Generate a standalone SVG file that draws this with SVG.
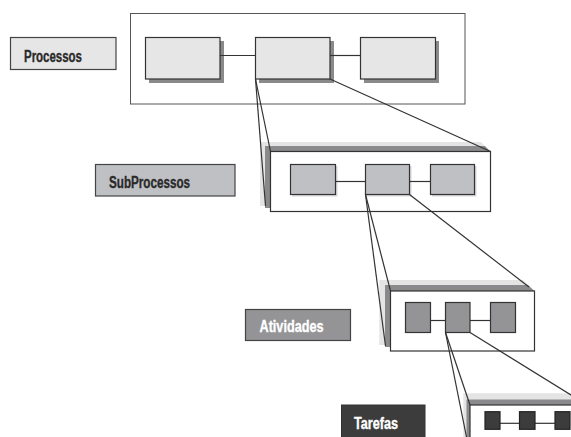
<svg xmlns="http://www.w3.org/2000/svg" width="571" height="437" viewBox="0 0 571 437">
<style>
.lbl{font-family:"Liberation Sans",Arial,sans-serif;font-weight:bold;font-size:16px;stroke-width:0.35px;}
.frame{fill:#ffffff;stroke:#555555;stroke-width:1;}
.front{fill:#ffffff;stroke:#333333;stroke-width:1.2;}
.band1{fill:#e4e4e4;}
.band2{fill:#8a8a8c;}
.shadow{fill:#8a8a8a;}
.b1{fill:#e6e6e6;stroke:#333333;stroke-width:1.2;}
.b2{fill:#bfc0c4;stroke:#333333;stroke-width:1.2;}
.b3{fill:#949497;stroke:#333333;stroke-width:1.2;}
.b4{fill:#3c3c3c;stroke:#222222;stroke-width:1.2;}
.conn{stroke:#333333;stroke-width:1.2;fill:none;}
</style>
<rect width="571" height="437" fill="#ffffff"/>

<g id="label-processos">
<rect x="10.5" y="37.5" width="105.5" height="32" fill="#e6e6e6" stroke="#444444" stroke-width="1.2"/>
<text class="lbl" x="24" y="61.5" fill="#2a2a2a" stroke="#2a2a2a" textLength="58" lengthAdjust="spacingAndGlyphs">Processos</text>
</g>

<g id="level1">
<rect class="frame" x="130.5" y="13.5" width="334.5" height="90.5"/>
<rect class="shadow" x="149" y="41" width="75" height="42"/>
<rect class="shadow" x="259" y="41" width="75" height="42"/>
<rect class="shadow" x="364" y="41" width="75" height="42"/>
<line class="conn" x1="220" y1="55.5" x2="255" y2="55.5"/>
<line class="conn" x1="330" y1="55.5" x2="360" y2="55.5"/>
<rect id="p1" class="b1" x="145.5" y="37.5" width="74.5" height="41.5"/>
<rect id="p2" class="b1" x="255.5" y="37.5" width="74.5" height="41.5"/>
<rect id="p3" class="b1" x="360.5" y="37.5" width="75" height="41.5"/>
</g>

<g id="label-subprocessos">
<rect x="95.5" y="164.5" width="139.5" height="31.5" fill="#bfc0c4" stroke="#444444" stroke-width="1.2"/>
<text class="lbl" x="109" y="187.5" fill="#2a2a2a" stroke="#2a2a2a" textLength="81" lengthAdjust="spacingAndGlyphs">SubProcessos</text>
</g>

<g id="level2">
<polygon class="band1" points="260,142 481,142 485,146 485,206 260,206"/>
<polygon class="band2" points="265,146 485,146 490.5,151.5 270.5,151.5 270.5,208 265,208"/>
<rect class="front" x="270.5" y="151.5" width="220" height="60"/>
<rect fill="#d8d8da" x="292" y="166" width="45.5" height="30.5"/>
<rect fill="#d8d8da" x="367" y="166" width="44.5" height="30.5"/>
<rect fill="#d8d8da" x="432" y="166" width="44.5" height="30.5"/>
<line class="conn" x1="335.5" y1="181.5" x2="365" y2="181.5"/>
<line class="conn" x1="409.5" y1="181.5" x2="430" y2="181.5"/>
<rect id="s1" class="b2" x="290.5" y="164.5" width="45" height="30"/>
<rect id="s2" class="b2" x="365.5" y="164.5" width="44" height="30"/>
<rect id="s3" class="b2" x="430.5" y="164.5" width="44" height="30"/>
</g>

<g id="label-atividades">
<rect x="245.5" y="309.5" width="105" height="31" fill="#949497" stroke="#444444" stroke-width="1.2"/>
<text class="lbl" x="259.5" y="332" fill="#ffffff" stroke="#ffffff" textLength="64" lengthAdjust="spacingAndGlyphs">Atividades</text>
</g>

<g id="level3">
<polygon class="band1" points="379.3,280 523,280 528,285 528,345 379.3,345"/>
<polygon class="band2" points="385,285 528,285 534.5,291 390.5,291 390.5,347 385,347"/>
<rect class="front" x="390.5" y="291" width="144" height="60"/>
<line class="conn" x1="430.5" y1="320.5" x2="445.5" y2="320.5"/>
<line class="conn" x1="470" y1="320.5" x2="490.5" y2="320.5"/>
<rect id="a1" class="b3" x="405.5" y="302.5" width="25" height="30"/>
<rect id="a2" class="b3" x="445.5" y="302.5" width="24.5" height="30"/>
<rect id="a3" class="b3" x="490.5" y="302.5" width="25" height="30"/>
</g>

<g id="label-tarefas">
<rect x="341.5" y="405" width="83.5" height="40" fill="#3c3c3c" stroke="#333333" stroke-width="1"/>
<text class="lbl" x="354" y="429" fill="#ffffff" stroke="#ffffff" textLength="44" lengthAdjust="spacingAndGlyphs">Tarefas</text>
</g>

<g id="level4">
<rect class="band1" x="463.3" y="393.3" width="120" height="50"/>
<rect class="band2" x="466.5" y="399.5" width="120" height="50"/>
<rect class="front" x="470" y="405" width="120" height="40"/>
<line class="conn" x1="500" y1="423.3" x2="519.5" y2="423.3"/>
<line class="conn" x1="535" y1="423.3" x2="555" y2="423.3"/>
<rect id="t1" class="b4" x="485" y="411.7" width="15" height="17.6"/>
<rect id="t2" class="b4" x="519.5" y="411.7" width="15.5" height="17.6"/>
<rect id="t3" class="b4" x="555" y="411.7" width="15" height="17.6"/>
</g>

<g id="connectors">
<line class="conn" x1="255.5" y1="79" x2="270.5" y2="151.5"/>
<line class="conn" x1="255.5" y1="79" x2="265.5" y2="206"/>
<line class="conn" x1="330" y1="79" x2="490.5" y2="151.5"/>
<line class="conn" x1="365.5" y1="194.5" x2="390.5" y2="291"/>
<line class="conn" x1="365.5" y1="194.5" x2="385.5" y2="346"/>
<line class="conn" x1="409.5" y1="194.5" x2="529" y2="287"/>
<line class="conn" x1="445.5" y1="332.5" x2="470" y2="405"/>
<line class="conn" x1="445.5" y1="332.5" x2="466.5" y2="437"/>
<line class="conn" x1="470" y1="332.5" x2="580" y2="400.5"/>
</g>
</svg>
